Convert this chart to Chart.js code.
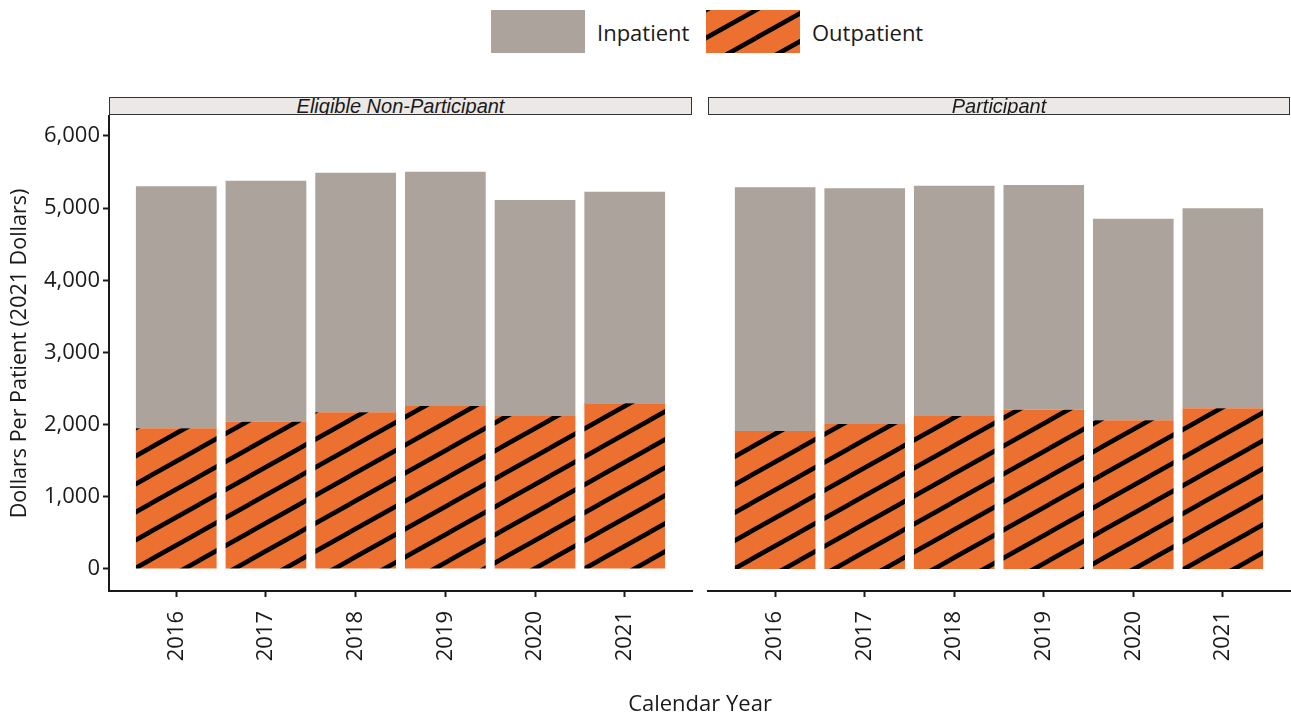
<!DOCTYPE html>
<html>
<head>
<meta charset="utf-8">
<script src="https://cdn.jsdelivr.net/npm/chart.js@4.4.1/dist/chart.umd.min.js"></script>
<style>
  html, body { margin: 0; padding: 0; background: #fff; }
  #fig { position: relative; width: 1291px; height: 715px; overflow: hidden;
         font-family: "Open Sans", sans-serif; color: #1a1a1a; }
  .panel { position: absolute; top: 0; height: 715px; }
  .strip { position: absolute; top: 97px; height: 16px; border: 1px solid #333;
           background: #ebe8e5; overflow: hidden; text-align: center;
           font: italic 20px "Liberation Sans", Arial, sans-serif; line-height: 16px; color: #1a1a1a; }
  .legend { position: absolute; top: 10px; height: 43px; display: flex; align-items: center; }
  .swatch { width: 94px; height: 43px; display: block; }
  .legend span { font-size: 22px; margin-left: 12px; }
  #xtitle { position: absolute; left: 0; width: 1400px; top: 688px; text-align: center; font-size: 22px; line-height: 28px; }
</style>
</head>
<body>
<div id="fig">
  <div class="legend" style="left:491px;"><canvas id="swIn" class="swatch" width="94" height="43"></canvas><span>Inpatient</span></div>
  <div class="legend" style="left:706px;"><canvas id="swOut" class="swatch" width="94" height="43"></canvas><span>Outpatient</span></div>

  <canvas id="panelA" class="panel" style="left:0;" width="700" height="715"></canvas>
  <canvas id="panelB" class="panel" style="left:700px;" width="591" height="715"></canvas>

  <div class="strip" style="left:109px; width:581px;">Eligible Non-Participant</div>
  <div class="strip" style="left:708px; width:580px;">Participant</div>

  <div id="xtitle">Calendar Year</div>
</div>

<script>
// Calendar years on the x axis and y-axis tick values
const years = ['2016', '2017', '2018', '2019', '2020', '2021'];
const yTicks = [0, 1000, 2000, 3000, 4000, 5000, 6000];

// Dollars per patient (2021 dollars), by group
const nonParticipantOutpatient = [1950, 2041, 2171, 2259, 2120, 2296];
const nonParticipantInpatient  = [3353, 3339, 3320, 3246, 2993, 2932];
const participantOutpatient    = [1912, 2009, 2120, 2207, 2060, 2227];
const participantInpatient     = [3377, 3266, 3191, 3114, 2794, 2771];

const GREY = '#aba39c';
const ORANGE = '#ec7131';
const INK = '#1a1a1a';

// Diagonal black hatching over orange for the outpatient share
function makeHatch() {
  const w = 50, h = 28;
  const c = document.createElement('canvas');
  c.width = w; c.height = h;
  const g = c.getContext('2d');
  g.fillStyle = ORANGE;
  g.fillRect(0, 0, w, h);
  g.strokeStyle = '#000';
  g.lineWidth = 4.6;
  for (const [dx, dy] of [[0, 0], [-w, 0], [w, 0], [0, -h], [0, h]]) {
    g.beginPath();
    g.moveTo(dx, dy + h);
    g.lineTo(dx + w, dy);
    g.stroke();
  }
  return g.createPattern(c, 'repeat');
}
const hatch = makeHatch();

// Legend swatches
(function () {
  const a = document.getElementById('swIn').getContext('2d');
  a.fillStyle = GREY; a.fillRect(0, 0, 94, 43);
  const b = document.getElementById('swOut').getContext('2d');
  b.fillStyle = hatch; b.fillRect(0, 0, 94, 43);
})();

const toPoints = arr => arr.map((v, i) => ({ x: i, y: v }));

function panelConfig(outpatient, inpatient, showY, padding) {
  return {
    type: 'bar',
    data: {
      datasets: [
        { label: 'Outpatient', data: toPoints(outpatient), backgroundColor: hatch,
          borderWidth: 0, categoryPercentage: 1, barPercentage: 0.9 },
        { label: 'Inpatient', data: toPoints(inpatient), backgroundColor: GREY,
          borderWidth: 0, categoryPercentage: 1, barPercentage: 0.9 }
      ]
    },
    options: {
      responsive: false,
      animation: false,
      layout: { padding: padding },
      plugins: { legend: { display: false }, tooltip: { enabled: false } },
      scales: {
        x: {
          type: 'linear', stacked: true, min: -0.75, max: 5.75, offset: false,
          afterBuildTicks: s => { s.ticks = years.map((_, i) => ({ value: i })); },
          afterFit: s => { s.height = 124; },
          grid: { display: true, offset: false, drawOnChartArea: false, drawTicks: true,
                  tickLength: 6, tickColor: INK, tickWidth: 2 },
          border: { display: true, color: INK, width: 2 },
          ticks: { autoSkip: false, minRotation: 90, maxRotation: 90, padding: 14,
                   color: INK, font: { family: 'Open Sans', size: 22 },
                   callback: v => years[v] }
        },
        y: {
          display: showY,
          stacked: true, min: -305, max: 6277,
          afterBuildTicks: s => { s.ticks = yTicks.map(v => ({ value: v })); },
          afterFit: s => { if (showY) s.width = 109; },
          grid: { display: true, drawOnChartArea: false, drawTicks: true,
                  tickLength: 6, tickColor: INK, tickWidth: 2 },
          border: { display: true, color: INK, width: 2 },
          ticks: { padding: 3, color: INK, font: { family: 'Open Sans', size: 22 },
                   callback: v => v.toLocaleString('en-US') },
          title: { display: true, text: 'Dollars Per Patient (2021 Dollars)',
                   color: INK, font: { family: 'Open Sans', size: 21.5 },
                   padding: { top: 7, bottom: 0 } }
        }
      }
    }
  };
}

new Chart(document.getElementById('panelA'),
  panelConfig(nonParticipantOutpatient, nonParticipantInpatient, true,
              { top: 116, right: 8, bottom: 0, left: 0 }));
new Chart(document.getElementById('panelB'),
  panelConfig(participantOutpatient, participantInpatient, false,
              { top: 116, right: 1, bottom: 0, left: 8 }));
</script>
</body>
</html>
